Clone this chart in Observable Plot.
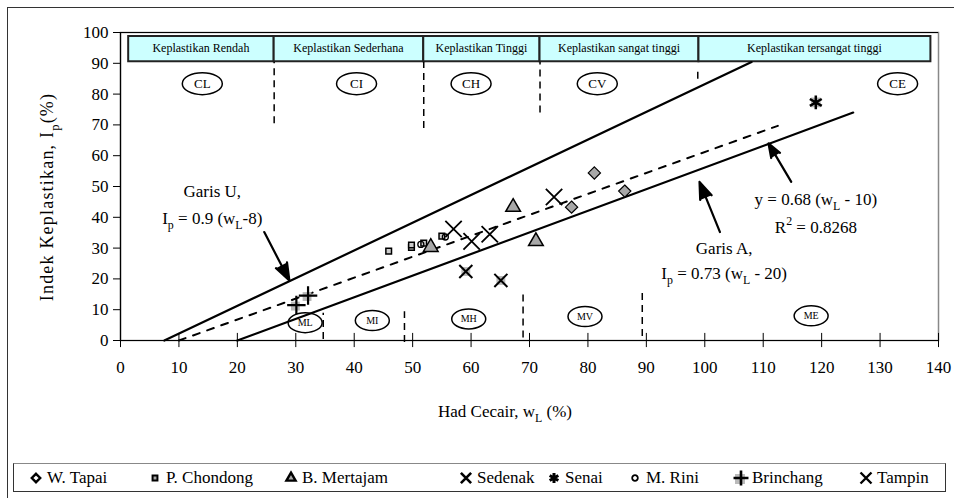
<!DOCTYPE html>
<html><head><meta charset="utf-8">
<script src="https://cdn.jsdelivr.net/npm/d3@7"></script>
<script src="https://cdn.jsdelivr.net/npm/@observablehq/plot@0.6"></script>
<style>
body{margin:0;background:#fff;font-family:"Liberation Serif","Tinos","Times New Roman","Times","DejaVu Serif",serif;}
#wrap{position:relative;width:954px;height:498px;overflow:hidden;background:#fff}
#plot{position:absolute;left:0;top:0}
#outer{position:absolute;left:7px;top:7px;width:1000px;height:600px;border-left:1.5px solid #333;border-top:1.5px solid #333;pointer-events:none}
#legend{position:absolute;left:13px;top:463px;width:933px;height:29px;border:1px solid #333;border-top:1.5px solid #888;box-sizing:border-box}
.item{position:absolute;top:0;height:27px;display:flex;align-items:center;font-size:17px;white-space:nowrap}
.item svg{margin-right:3px}
svg text{font-family:"Liberation Serif","Tinos","Times New Roman","Times","DejaVu Serif",serif;}
</style></head><body>
<div id="wrap"><div id="plot"></div><div id="outer"></div><div id="legend"></div></div>
<script>
// ---- data ----
const xTicks = [0,10,20,30,40,50,60,70,80,90,100,110,120,130,140];
const yTicks = [0,10,20,30,40,50,60,70,80,90,100];

const seriesNames = ["W. Tapai","P. Chondong","B. Mertajam","Sedenak","Senai","M. Rini","Brinchang","Tampin"];
const wTapaiWL = [77.2, 81.1, 86.3];        const wTapaiIP = [43.3, 54.4, 48.5];
const pChondongWL = [45.9, 49.8, 49.8, 51.9, 55.0]; const pChondongIP = [29.0, 30.2, 31.0, 31.6, 33.9];
const bMertajamWL = [53.1, 67.2, 71.1];     const bMertajamIP = [30.3, 43.3, 32.2];
const sedenakWL = [59.1, 65.1];             const sedenakIP = [22.4, 19.5];
const senaiWL = [119.0];                    const senaiIP = [77.3];
const mRiniWL = [51.4, 55.6];               const mRiniIP = [31.2, 33.6];
const brinchangWL = [30.1, 32.1];           const brinchangIP = [11.5, 14.6];
const tampinWL = [57.0, 60.1, 63.2, 74.2];  const tampinIP = [36.2, 32.2, 34.5, 46.6];

// classification lines (end points as drawn)
const lineUWL = [7.5, 108];   const lineUIP = [0, 90.4];
const lineAWL = [20, 125.4];  const lineAIP = [0, 74];
const trendWL = [10, 112.5];  const trendIP = [0, 69.7];

// plasticity zones (top band)
const zoneNames = ["Keplastikan Rendah","Keplastikan Sederhana","Keplastikan Tinggi","Keplastikan sangat tinggi","Keplastikan tersangat tinggi"];
const zoneStart = [1.4, 26.3, 51.9, 71.8, 99.0];
const zoneEnd   = [26.3, 51.9, 71.8, 99.0, 138.7];
const zoneBottom = 90.5, zoneTop = 98.7;

// class labels
const clayClasses = ["CL","CI","CH","CV","CE"];
const clayWL = [14.0, 40.4, 60.0, 81.6, 133.0];
const clayIP = [83.4, 83.4, 83.4, 83.4, 83.4];
const siltClasses = ["ML","MI","MH","MV","ME"];
const siltWL = [31.6, 43.1, 59.6, 79.5, 118.2];
const siltIP = [5.8, 6.5, 7.0, 7.8, 8.0];

// dashed boundaries
const topDivWL = [26.3, 51.9, 71.8, 98.8]; const topDivFrom = [70.5, 69.0, 74.0, 85.0]; const topDivTo = [90.5, 90.5, 90.5, 88.0];
const botDivWL = [34.7, 48.6, 68.9, 89.3]; const botDivFrom = [0.5, -0.5, 1.0, 1.5];  const botDivTo = [9.0, 9.5, 16.0, 16.0];

// arrows
const arrowX1 = [24.6, 102.6, 114.8]; const arrowY1 = [35.2, 35.2, 51.5];
const arrowX2 = [28.9, 99.1, 110.9];  const arrowY2 = [19.5, 51.5, 64.0];

// ---- tables ----
const pts = (wl, ip) => wl.map((w,i)=>({wl:w, ip:ip[i]}));
const zones = zoneNames.map((n,i)=>({name:n, x1:zoneStart[i], x2:zoneEnd[i], mid:(zoneStart[i]+zoneEnd[i])/2, dy: i===1 ? -5 : 1}));
const clays = clayClasses.map((c,i)=>({c, wl:clayWL[i], ip:clayIP[i]}));
const silts = siltClasses.map((c,i)=>({c, wl:siltWL[i], ip:siltIP[i]}));
const topDivs = topDivWL.map((w,i)=>({wl:w, y1:topDivFrom[i], y2:topDivTo[i]}));
const botDivs = botDivWL.map((w,i)=>({wl:w, y1:botDivFrom[i], y2:botDivTo[i]}));
const arrows = arrowX1.map((x,i)=>({x1:x, y1:arrowY1[i], x2:arrowX2[i], y2:arrowY2[i]}));

function ellipse(rx, ry){
  const k = 0.5523;
  return {draw(ctx){
    ctx.moveTo(rx,0);
    ctx.bezierCurveTo(rx, ry*k, rx*k, ry, 0, ry);
    ctx.bezierCurveTo(-rx*k, ry, -rx, ry*k, -rx, 0);
    ctx.bezierCurveTo(-rx, -ry*k, -rx*k, -ry, 0, -ry);
    ctx.bezierCurveTo(rx*k, -ry, rx, -ry*k, rx, 0);
    ctx.closePath();
  }};
}

const FF = '"Liberation Serif", Tinos, "Times New Roman", Times, "DejaVu Serif", serif';
const gray = "#a8a8a8";
const plot = Plot.plot({
  width: 954, height: 455,
  marginLeft: 120, marginRight: 16, marginTop: 32, marginBottom: 115,
  x: {domain: [0,140]}, y: {domain: [0,100]},
  style: {fontFamily: FF, fontSize: "17px", background: "transparent", color: "black"},
  marks: [
    Plot.frame({stroke: "#888", strokeWidth: 1.5}),
    Plot.ruleY([100], {stroke: "black", strokeWidth: 1.2}),
    Plot.ruleX([0], {stroke: "black", strokeWidth: 1.2}),
    Plot.ruleY([0], {stroke: "black", strokeWidth: 1.2}),
    Plot.ruleX(xTicks, {y1: -2.3, y2: 2.3, stroke: "black"}),
    Plot.axisX({ticks: xTicks, tickSize: 0, tickPadding: 20, label: null, fontSize: 17, fontFamily: FF}),
    Plot.axisY({ticks: yTicks, tickSize: 7, tickPadding: 5, label: null, fontSize: 17, fontFamily: FF}),
    // zone boxes
    Plot.rect(zones, {x1: "x1", x2: "x2", y1: zoneBottom, y2: zoneTop, fill: "#ccffff", stroke: "#222", strokeWidth: 2}),
    Plot.text(zones, {x: "mid", y: (zoneBottom+zoneTop)/2, text: "name", dy: "dy", fontSize: 12, fontFamily: FF}),
    // dashed boundaries
    Plot.link(topDivs, {x1: "wl", x2: "wl", y1: "y1", y2: "y2", strokeDasharray: "7,5", strokeWidth: 1.5}),
    Plot.link(botDivs, {x1: "wl", x2: "wl", y1: "y1", y2: "y2", strokeDasharray: "7,5", strokeWidth: 1.5}),
    // class ellipses
    Plot.dot(clays, {x: "wl", y: "ip", symbol: ellipse(20, 11), fill: "white", stroke: "black", strokeWidth: 1.5}),
    Plot.text(clays, {x: "wl", y: "ip", text: "c", fontSize: 13, fontFamily: FF}),
    Plot.dot(silts, {x: "wl", y: "ip", symbol: ellipse(17, 10), fill: "white", stroke: "black", strokeWidth: 1.5}),
    Plot.text(silts, {x: "wl", y: "ip", text: "c", fontSize: 10, fontFamily: FF}),
    // lines
    Plot.line(pts(lineUWL, lineUIP), {x: "wl", y: "ip", stroke: "black", strokeWidth: 2.2}),
    Plot.line(pts(lineAWL, lineAIP), {x: "wl", y: "ip", stroke: "black", strokeWidth: 2.2}),
    Plot.line(pts(trendWL, trendIP), {x: "wl", y: "ip", stroke: "black", strokeWidth: 2, strokeDasharray: "7,8"}),
    // arrows
    Plot.arrow(arrows, {x1: "x1", y1: "y1", x2: "x2", y2: "y2", fill: "black", stroke: "black", strokeWidth: 2.2, headLength: 18, headAngle: 40}),
    // data points
    Plot.dot(pts(wTapaiWL, wTapaiIP), {x: "wl", y: "ip", symbol: "diamond2", r: 5.5, fill: gray, stroke: "black", strokeWidth: 1.2}),
    Plot.dot(pts(pChondongWL, pChondongIP), {x: "wl", y: "ip", symbol: "square2", r: 3.6, fill: "#ccc", stroke: "black", strokeWidth: 1.5}),
    Plot.dot(pts(mRiniWL, mRiniIP), {x: "wl", y: "ip", symbol: "circle", r: 3, fill: "none", stroke: "black", strokeWidth: 1.3}),
    Plot.dot(pts(bMertajamWL, bMertajamIP), {x: "wl", y: "ip", symbol: "triangle2", r: 7, fill: gray, stroke: "black", strokeWidth: 1.5}),
    Plot.dot(pts(sedenakWL, sedenakIP), {x: "wl", y: "ip", symbol: "square", r: 5, fill: "#b8b8b8"}),
    Plot.dot(pts(sedenakWL, sedenakIP), {x: "wl", y: "ip", symbol: "times", r: 6, stroke: "black", strokeWidth: 2}),
    Plot.dot(pts(senaiWL, senaiIP), {x: "wl", y: "ip", symbol: "square", r: 5.5, fill: "#b8b8b8"}),
    Plot.dot(pts(senaiWL, senaiIP), {x: "wl", y: "ip", symbol: "asterisk", r: 6.5, stroke: "black", strokeWidth: 2.5}),
    Plot.dot(pts(brinchangWL, brinchangIP), {x: "wl", y: "ip", symbol: "square", r: 5, fill: "#b8b8b8", dx: -1, dy: 1}),
    Plot.dot(pts(brinchangWL, brinchangIP), {x: "wl", y: "ip", symbol: "plus", r: 6, stroke: "black", strokeWidth: 2.2}),
    Plot.dot(pts(tampinWL, tampinIP), {x: "wl", y: "ip", symbol: "times", r: 7.5, stroke: "black", strokeWidth: 1.8})
  ]
});
document.getElementById("plot").appendChild(plot);

// ---- text annotations with sub/superscripts ----
const svg = d3.select(plot);
const sx = plot.scale("x"), sy = plot.scale("y");
function richText(px, py, segs, size, rotate){
  const t = svg.append("text")
    .attr("font-family", FF)
    .attr("font-size", size)
    .attr("text-anchor", "middle")
    .attr("fill", "black");
  if (rotate) t.attr("transform", `translate(${px},${py}) rotate(-90)`).attr("x", 0).attr("y", 0.35*size);
  else t.attr("x", px).attr("y", py + 0.35*size);
  let prev = null;
  segs.forEach(s => {
    const [txt, kind] = Array.isArray(s) ? s : [s, null];
    const sp = t.append("tspan").text(txt);
    let dy = 0;
    if (prev === "sub") dy -= size*0.3;
    if (prev === "sup") dy += size*0.45;
    if (kind === "sub") { sp.attr("font-size", size*0.7); dy += size*0.3; }
    if (kind === "sup") { sp.attr("font-size", size*0.7); dy -= size*0.45; }
    if (dy) sp.attr("dy", dy);
    prev = kind;
  });
  return t;
}
const X = v => sx.apply(v), Y = v => sy.apply(v);
richText(X(15.8), Y(48.2), ["Garis U,"], 17);
richText(X(15.8), Y(39.7), ["I", ["p","sub"], " = 0.9 (w", ["L","sub"], "-8)"], 17);
richText(X(103.4), Y(30.0), ["Garis A,"], 17);
richText(X(103.4), Y(21.8), ["I", ["p","sub"], " = 0.73 (w", ["L","sub"], " - 20)"], 17);
richText(X(119.1), Y(45.9), ["y = 0.68 (w", ["L","sub"], " - 10)"], 17);
richText(X(119.1), Y(36.8), ["R", ["2","sup"], " = 0.8268"], 17);
// axis titles
richText(505, 411, ["Had Cecair, w", ["L","sub"], " (%)"], 17);
richText(47, 197, ["Indek Keplastikan, I", ["p","sub"], "(%)"], 18, true).attr("letter-spacing", 1.2);

// ---- legend ----
const legendCenters = [22, 141, 277, 452, 540, 621, 727, 852];
const legendSym = [
  {type: d3.symbolDiamond2, size: 45, fill: "white", stroke: "black", sw: 2.4},
  {type: d3.symbolSquare2, size: 30, fill: gray, stroke: "black", sw: 2},
  {type: d3.symbolTriangle2, size: 60, fill: gray, stroke: "black", sw: 2.4},
  {type: d3.symbolTimes, size: 70, fill: "none", stroke: "black", sw: 2.6},
  {type: d3.symbolAsterisk, size: 70, fill: "none", stroke: "black", sw: 3},
  {type: d3.symbolCircle, size: 25, fill: "white", stroke: "black", sw: 1.8},
  {type: d3.symbolPlus, size: 75, fill: "none", stroke: "black", sw: 2.6, bg: true},
  {type: d3.symbolTimes, size: 80, fill: "none", stroke: "black", sw: 2.4}
];
const legend = d3.select("#legend");
seriesNames.forEach((name, i) => {
  const s = legendSym[i];
  const it = legend.append("div").attr("class", "item").style("left", (legendCenters[i]-8) + "px");
  const sv = it.append("svg").attr("width", 16).attr("height", 16);
  if (s.bg) sv.append("rect").attr("x", 2).attr("y", 4).attr("width", 10).attr("height", 10).attr("fill", "#bbb");
  sv.append("path").attr("transform", "translate(8,8)").attr("d", d3.symbol(s.type, s.size)())
    .attr("fill", s.fill).attr("stroke", s.stroke).attr("stroke-width", s.sw);
  it.append("span").text(name);
});
</script>
</body></html>
